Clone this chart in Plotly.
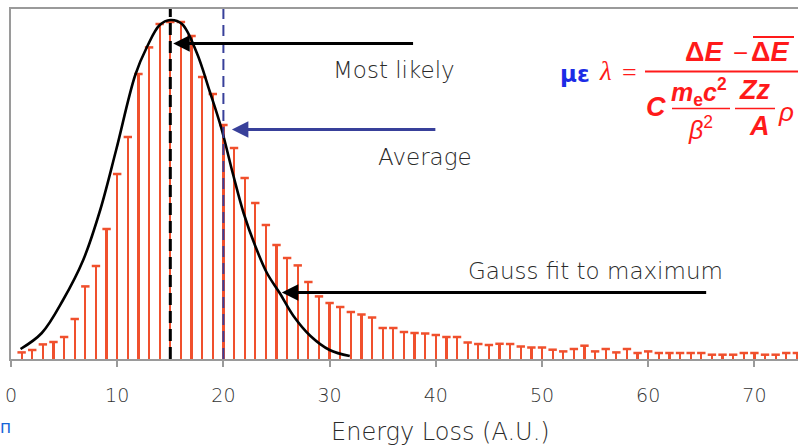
import plotly.graph_objects as go

# Energy-loss histogram (arbitrary units), one bin per unit of energy loss
energy = list(range(1, 75))
counts = [6.6, 9, 14.6, 17, 22, 40, 72.6, 93, 130, 185,
          222, 285, 311.6, 335, 337, 337, 323, 282, 265, 234,
          211, 181, 156, 134, 114, 101, 93.6, 77, 62.6, 56,
          52, 47, 44.5, 41.5, 31, 31, 27, 26, 25.5, 24,
          22, 22, 16.5, 15, 14, 15.2, 15, 12.5, 11.5, 11.5,
          9.3, 7.6, 10, 13.3, 7.6, 10, 6.6, 10, 6, 7.6,
          6, 6, 6, 6, 6, 4.3, 4.3, 4.3, 6, 6,
          4.3, 4.3, 6, 6]

# Gaussian fitted to the maximum of the distribution
gauss_x = [0.9, 2.9, 4.9, 6.8, 8.4, 9.9, 11.7, 12.8, 14.0, 15.0, 16.1,
           17.5, 18.7, 19.8, 20.9, 21.9, 23.0, 24.1, 25.3, 26.6, 28.2,
           30.0, 31.9]
gauss_y = [10, 26, 59, 99, 149, 209, 284, 312, 334, 339, 335,
           306, 268, 231, 185, 146, 113, 86, 66, 43, 23,
           9, 3]

most_likely = 15
average = 20

x_ticks = [0, 10, 20, 30, 40, 50, 60, 70]

BAR = "#F0502D"
NAVY = "#38409A"
RED = "#FF1A1A"

W, H = 798, 447
ML, MR, MT, MB = 11, 0, 9, 88
PW, PH = W - ML - MR, H - MT - MB


def px(x):
    return (x - ML) / PW


def py(y):
    return (H - MB - y) / PH


fig = go.Figure()

fig.add_trace(go.Bar(x=energy, y=counts, width=0.21,
                     marker=dict(color=BAR, line=dict(width=0)),
                     hoverinfo="skip"))
fig.add_trace(go.Scatter(x=energy, y=counts, mode="markers",
                         marker=dict(symbol="line-ew", size=6,
                                     line=dict(color=BAR, width=2.5)),
                         hoverinfo="skip"))
fig.add_trace(go.Scatter(x=gauss_x, y=gauss_y, mode="lines",
                         line=dict(color="black", width=2.6,
                                   shape="spline", smoothing=1.0),
                         hoverinfo="skip"))

shapes = [
    dict(type="line", xref="x", yref="paper", x0=most_likely, x1=most_likely,
         y0=0, y1=1.0, line=dict(color="black", width=3, dash="12px,6px")),
    dict(type="line", xref="x", yref="paper", x0=average, x1=average,
         y0=0, y1=1.0, line=dict(color=NAVY, width=2, dash="11px,6px")),
    # fraction bars of the formula
    dict(type="line", xref="paper", yref="paper", x0=px(645), x1=px(805),
         y0=py(71.5), y1=py(71.5), line=dict(color=RED, width=2)),
    dict(type="line", xref="paper", yref="paper", x0=px(753), x1=px(794),
         y0=py(37), y1=py(37), line=dict(color=RED, width=2)),
    dict(type="line", xref="paper", yref="paper", x0=px(672), x1=px(730),
         y0=py(108.5), y1=py(108.5), line=dict(color=RED, width=1.6)),
    dict(type="line", xref="paper", yref="paper", x0=px(735), x1=px(775),
         y0=py(108.5), y1=py(108.5), line=dict(color=RED, width=1.6)),
]

HAND = "DejaVu Sans"
LBL = dict(family=HAND, size=23, color="#2a2a2a", weight=200)


def arrow(x, y, ax, color):
    return dict(x=x, y=y, ax=ax, ay=y, xref="x", yref="y", axref="x",
                ayref="y", text="", showarrow=True, arrowhead=2,
                arrowsize=1.1, arrowwidth=3, arrowcolor=color, standoff=0)


def ftext(text, x, y, size=27, color=RED, family="Liberation Sans",
          xanchor="center", weight=400):
    return dict(text=text, x=px(x), y=py(y), xref="paper", yref="paper",
                showarrow=False, xanchor=xanchor, yanchor="middle",
                font=dict(family=family, size=size, color=color,
                          weight=weight))


annotations = [
    arrow(15.28, 315.5, 38.0, "black"),
    arrow(20.8, 229.5, 40.1, NAVY),
    arrow(25.5, 66.5, 65.6, "black"),
    dict(text="Most likely", x=36.1, y=289, xref="x", yref="y",
         showarrow=False, font=LBL),
    dict(text="Average", x=39.0, y=202, xref="x", yref="y",
         showarrow=False, font=LBL),
    dict(text="Gauss fit to maximum", x=55.0, y=88, xref="x", yref="y",
         showarrow=False, font=LBL),
    dict(text="Energy Loss (A.U.)", x=40.4, y=0, xref="x", yref="paper",
         yanchor="middle", yshift=-73, showarrow=False,
         font=dict(family=HAND, size=24, color="#2a2a2a", weight=200)),
    ftext("п", 5, 427, size=17, color="#1565D8", family="DejaVu Sans"),
    # energy-loss parameter formula
    ftext("<b>με</b>", 575, 74, size=23, color="#1C2CE6",
          family="DejaVu Sans"),
    ftext("<i>λ</i>", 605, 71, size=27, family="Liberation Serif"),
    ftext("=", 629, 72, size=26, family="Liberation Serif"),
    ftext("Δ<i>E</i>", 704, 52, weight=700),
    ftext("−", 740, 53, size=26),
    ftext("Δ<i>E</i>", 770, 52, weight=700),
    ftext("<i>C</i>", 656, 107, weight=700),
    ftext("<i>m</i><sub>e</sub><i>c</i><sup>2</sup>", 699, 92, size=25,
          weight=700),
    ftext("<i>β</i><sup>2</sup>", 700, 128, size=25),
    ftext("<i>Zz</i>", 754, 90, weight=700),
    ftext("<i>A</i>", 759, 126, weight=700),
    ftext("<i>ρ</i>", 776, 112, size=26, xanchor="left"),
]

fig.update_layout(
    width=W, height=H,
    margin=dict(l=ML, r=MR, t=MT, b=MB),
    paper_bgcolor="white", plot_bgcolor="white",
    showlegend=False, bargap=0,
    shapes=shapes, annotations=annotations,
    xaxis=dict(range=[0, PW / 10.62], tickvals=x_ticks,
               ticks="outside", ticklen=6, tickwidth=1.5, tickcolor="#9a9a9a",
               ticklabelstandoff=12,
               showline=True, linecolor="#9a9a9a", linewidth=2, mirror=True,
               showgrid=False, zeroline=False,
               tickfont=dict(family=HAND, size=19, color="#333333",
                             weight=200)),
    yaxis=dict(range=[0, 350], showticklabels=False, ticks="",
               showline=True, linecolor="#9a9a9a", linewidth=2,
               showgrid=False, zeroline=False),
)

fig.write_html("out.html")
